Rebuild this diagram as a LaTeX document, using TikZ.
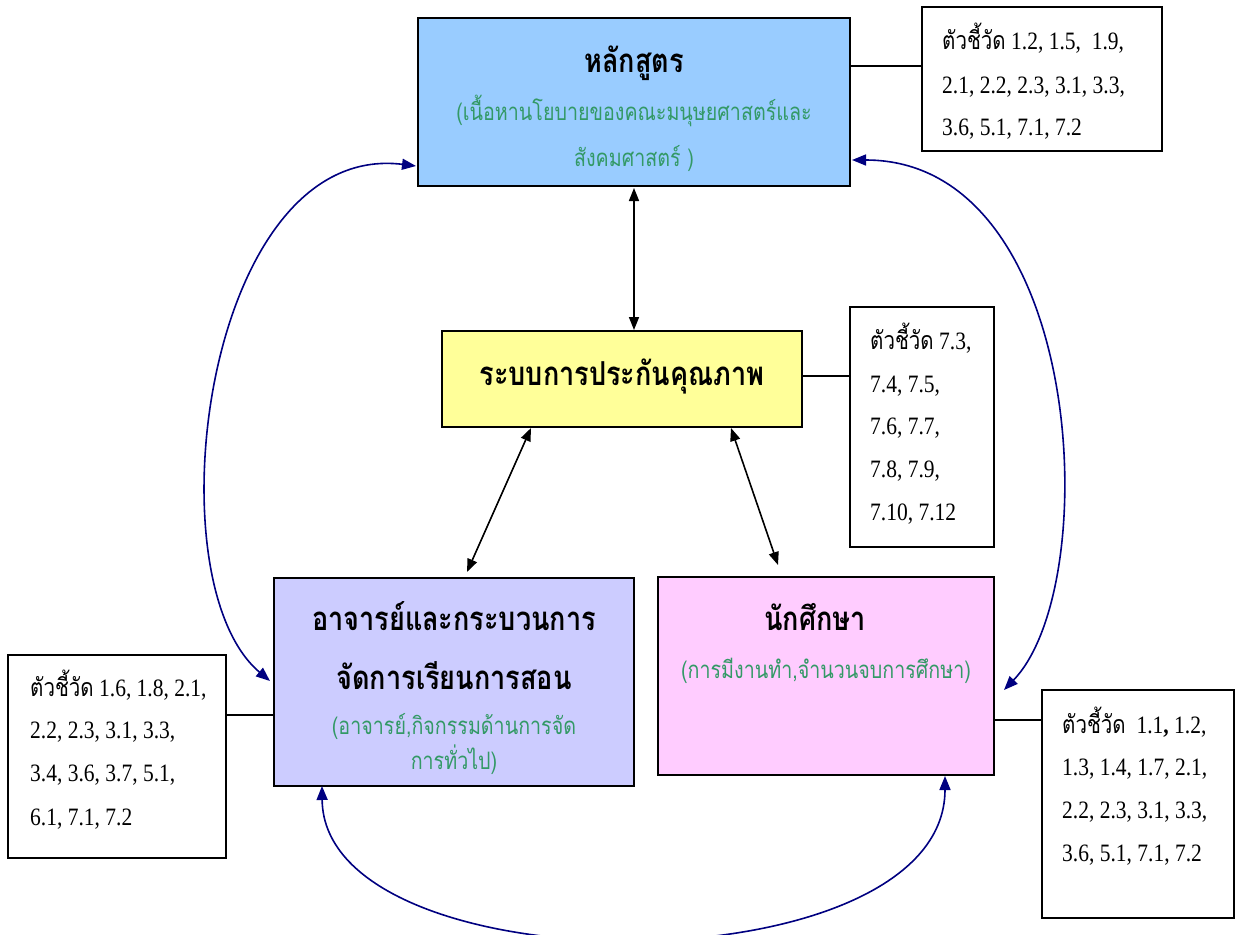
\documentclass[tikz,border=0pt]{standalone}
\usepackage{fontspec}
\setmainfont{Liberation Serif}
\newfontfamily\numf[FakeStretch=0.86]{Liberation Serif}
\newfontfamily\thai[Script=Thai,FakeStretch=0.82]{Loma}
\usetikzlibrary{arrows.meta}
\definecolor{navyc}{HTML}{000080}
\definecolor{greent}{HTML}{339966}
\definecolor{bluef}{HTML}{99CCFF}
\definecolor{yellowf}{HTML}{FFFF99}
\definecolor{lilacf}{HTML}{CCCCFF}
\definecolor{pinkf}{HTML}{FFCCFF}
\tikzset{
  mainbox/.style={draw=black, line width=2.2pt, inner sep=0pt},
  indbox/.style={draw=black, line width=1.6pt, fill=white, inner sep=0pt},
  head/.style={font=\thai\bfseries\fontsize{33}{36}\selectfont, anchor=base, inner sep=0pt},
  sub/.style={font=\thai\fontsize{24}{28}\selectfont, text=greent, anchor=base, inner sep=0pt},
  indline/.style={font=\numf\fontsize{25}{28}\selectfont, anchor=base west, inner sep=0pt},
  link/.style={draw=black, line width=1.2pt},
  blk/.style={draw=black, line width=1.6pt, {Triangle[length=13pt,width=10pt]}-{Triangle[length=13pt,width=10pt]}},
  blu/.style={draw=navyc, line width=1.6pt, {Triangle[length=14pt,width=11pt]}-{Triangle[length=14pt,width=11pt]}}
}
\newcommand{\tw}{{\thai\fontsize{25}{28}\selectfont ตัวชี้วัด}}
\begin{document}
\begin{tikzpicture}[x=1pt,y=-1pt]
\useasboundingbox (0,0) rectangle (1236,934);
\clip (0,0) rectangle (1236,934);
% main boxes
\node[mainbox, fill=bluef, minimum width=432pt, minimum height=168pt] (cur) at (634,102) {};
\node[mainbox, fill=yellowf, minimum width=360pt, minimum height=96pt] (qa) at (622,379) {};
\node[mainbox, fill=lilacf, minimum width=360pt, minimum height=208pt] (tch) at (454,682) {};
\node[mainbox, fill=pinkf, minimum width=336pt, minimum height=198pt] (stu) at (826,676) {};
% indicator boxes
\node[indbox, minimum width=240pt, minimum height=144pt] (i1) at (1042,79) {};
\node[indbox, minimum width=144pt, minimum height=240pt] (i2) at (922,427) {};
\node[indbox, minimum width=218pt, minimum height=203pt] (i3) at (117,756.5) {};
\node[indbox, minimum width=192pt, minimum height=228pt] (i4) at (1138,804) {};
% texts in main boxes
\node[head] (curT) at (634,72) {หลักสูตร};
\node[sub] (curS1) at (634,120) {(เนื้อหานโยบายของคณะมนุษยศาสตร์และ};
\node[sub] (curS2) at (634,166) {สังคมศาสตร์ )};
\node[head] (qaT) at (622,385) {ระบบการประกันคุณภาพ};
\node[head] (tchT1) at (454,630) {อาจารย์และกระบวนการ};
\node[head] (tchT2) at (454,689) {จัดการเรียนการสอน};
\node[sub] (tchS1) at (454,734) {(อาจารย์,กิจกรรมด้านการจัด};
\node[sub] (tchS2) at (454,769) {การทั่วไป)};
\node[head] (stuT) at (815,630) {นักศึกษา};
\node[sub] (stuS) at (826,678) {(การมีงานทำ,จำนวนจบการศึกษา)};
% indicator texts
\node[indline] (a1) at (942,50) {\tw\ 1.2, 1.5,\ \ 1.9,};
\node[indline] (a2) at (942,93) {2.1, 2.2, 2.3, 3.1, 3.3,};
\node[indline] (a3) at (942,135) {3.6, 5.1, 7.1, 7.2};
\node[indline] (b1) at (870,349) {\tw\ 7.3,};
\node[indline] (b2) at (870,392) {7.4, 7.5,};
\node[indline] (b3) at (870,434) {7.6, 7.7,};
\node[indline] (b4) at (870,477) {7.8, 7.9,};
\node[indline] (b5) at (870,520) {7.10, 7.12};
\node[indline] (c1) at (30,696) {\tw\ 1.6, 1.8, 2.1,};
\node[indline] (c2) at (30,738) {2.2, 2.3, 3.1, 3.3,};
\node[indline] (c3) at (30,781) {3.4, 3.6, 3.7, 5.1,};
\node[indline] (c4) at (30,825) {6.1, 7.1, 7.2};
\node[indline] (d1) at (1062,733) {\tw\ \ 1.1\textbf{,} 1.2,};
\node[indline] (d2) at (1062,775) {1.3, 1.4, 1.7, 2.1,};
\node[indline] (d3) at (1062,818) {2.2, 2.3, 3.1, 3.3,};
\node[indline] (d4) at (1062,861) {3.6, 5.1, 7.1, 7.2};
% links to indicator boxes
\draw[link] (cur.east |- 0,66) -- (i1.west |- 0,66);
\draw[link] (qa.east |- 0,376) -- (i2.west |- 0,376);
\draw[link] (i3.east |- 0,715) -- (tch.west |- 0,715);
\draw[link] (stu.east |- 0,720) -- (i4.west |- 0,720);
% black arrows
\draw[blk] (cur.south |- 0,188) -- (cur.south |- 0,330);
\draw[blk] (531,428) -- (467,572);
\draw[blk] (731,428) -- (778,565);
% blue arcs
\draw[blu] (416,166) .. controls (205,140) and (150,580) .. (270,681);
\draw[blu] (852,160) .. controls (1085,160) and (1105,585) .. (1004,690);
\draw[blu] (322,786) .. controls (324,990) and (945,990) .. (945,776);
\end{tikzpicture}
\end{document}
